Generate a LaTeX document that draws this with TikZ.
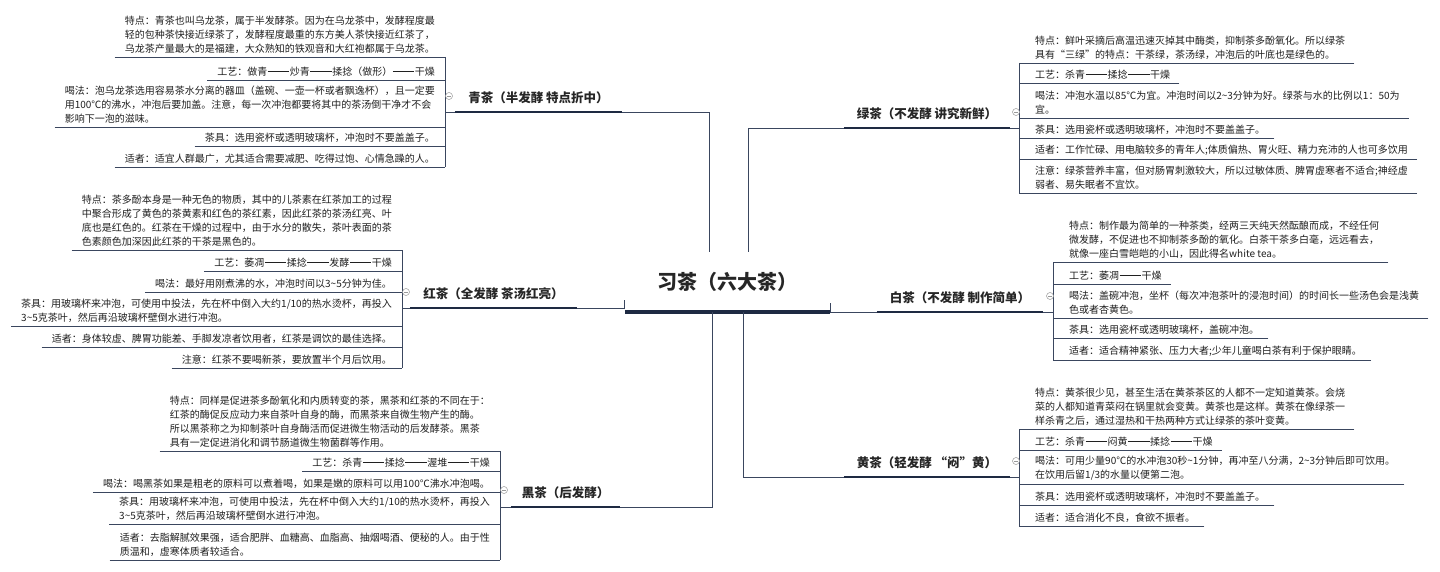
\documentclass[tikz,border=0pt]{standalone}
\usepackage{fontspec}
\setmainfont{Noto Sans CJK SC}
\usepackage{tikz}
\definecolor{linecol}{RGB}{58, 70, 94}
\definecolor{barcol}{RGB}{30, 42, 66}
\definecolor{textcol}{RGB}{32, 32, 32}
\newcommand{\tld}{\textasciitilde}
\newcommand{\dd}{\hspace{0.05em}\rule[0.34em]{2.15em}{0.06em}\hspace{0.05em}} % ——

\begin{document}
\begin{tikzpicture}[x=1pt, y=-1pt,
    item/.style={font=\fontsize{10}{14}\selectfont, text=textcol, align=left,
                 inner xsep=10pt, inner ysep=3.5pt}, % tópicos
    itemL/.style={item, anchor=south east},          % lado esquerdo
    itemR/.style={item, anchor=south west, inner xsep=9pt}, % lado direito
    branch/.style={font=\fontsize{12.5}{15}\selectfont\bfseries, text=black!85,
                   anchor=south, inner xsep=0pt, inner ysep=8.5pt},
    thin/.style={draw=linecol, line width=0.9pt},
    bar/.style={draw=barcol, line width=2.8pt},
    fold/.style={circle, draw=gray!80, line width=0.5pt, fill=white,
                 minimum size=7pt, inner sep=0pt,
                 path picture={\draw[gray!80, line width=0.5pt]
                   ([xshift=-2pt]path picture bounding box.center) --
                   ([xshift=2pt]path picture bounding box.center);}}]
\useasboundingbox (0,0) rectangle (1440,572);
\fill[white] (0,0) rectangle (1440,572);

% centro
\node[font=\fontsize{20}{24}\selectfont\bfseries, text=black!85, anchor=south,
      minimum width=205pt, minimum height=60pt, inner sep=0pt] (xc) at (727.5,312) {习茶（六大茶）};
\draw[barcol, line width=3.6pt] (xc.south west) -- (xc.south east);

% ramos
\node[branch, minimum width=167pt] (qing)  at (538.5,112) {青茶（半发酵 特点折中）};
\node[branch, minimum width=167pt] (hong)  at (493.5,308) {红茶（全发酵 茶汤红亮）};
\node[branch, minimum width=109pt] (hei)   at (565.5,507) {黑茶（后发酵）};
\node[branch, minimum width=166pt] (lv)    at (927,128)   {绿茶（不发酵 讲究新鲜）};
\node[branch, minimum width=166pt] (bai)   at (960,312)   {白茶（不发酵 制作简单）};
\node[branch, minimum width=166pt] (huang) at (927,477)   {黄茶（轻发酵 “闷”黄）};
\foreach \b in {qing,hong,hei,lv,bai,huang}
  \draw[bar] (\b.south west) -- (\b.south east);

\draw[thin] ([xshift=85pt]xc.north west) |- (qing.south east);
\draw[thin] ([xshift=124pt]xc.north west) |- (lv.south west);
\draw[thin] ([yshift=12pt]xc.south west) |- (hong.south east);
\draw[thin] ([yshift=9pt]xc.south east) |- (bai.south west);
\draw[thin] ([xshift=88pt]xc.south west) |- (hei.south east);
\draw[thin] ([xshift=119pt]xc.south west) |- (huang.south west);

% 青茶
\node[itemL] (qing1) at (445,57) {特点：青茶也叫乌龙茶，属于半发酵茶。因为在乌龙茶中，发酵程度最\\轻的包种茶快接近绿茶了，发酵程度最重的东方美人茶快接近红茶了，\\乌龙茶产量最大的是福建，大众熟知的铁观音和大红袍都属于乌龙茶。};
\node[itemL] (qing2) at (445,80) {工艺：做青\dd 炒青\dd 揉捻（做形）\dd 干燥};
\node[itemL] (qing3) at (445,127) {喝法：泡乌龙茶选用容易茶水分离的器皿（盖碗、一壶一杯或者飘逸杯），且一定要\\用100℃的沸水，冲泡后要加盖。注意，每一次冲泡都要将其中的茶汤倒干净才不会\\影响下一泡的滋味。};
\node[itemL] (qing4) at (445,146) {茶具：选用瓷杯或透明玻璃杯，冲泡时不要盖盖子。};
\node[itemL] (qing5) at (445,167) {适者：适宜人群最广，尤其适合需要减肥、吃得过饱、心情急躁的人。};
\foreach \n in {qing1,qing2,qing3,qing4,qing5}
  \draw[thin] (\n.south west) -- (\n.south east);
\draw[thin] (qing1.south east) -- (qing5.south east);
\draw[thin] (qing.south west) -- (qing.south west -| qing1.south east);
\node[fold] (qingf) at (449,96) {};

% 红茶
\node[itemL] (hong1) at (402,250) {特点：茶多酚本身是一种无色的物质，其中的儿茶素在红茶加工的过程\\中聚合形成了黄色的茶黄素和红色的茶红素，因此红茶的茶汤红亮、叶\\底也是红色的。红茶在干燥的过程中，由于水分的散失，茶叶表面的茶\\色素颜色加深因此红茶的干茶是黑色的。};
\node[itemL] (hong2) at (402,271) {工艺：萎凋\dd 揉捻\dd 发酵\dd 干燥};
\node[itemL] (hong3) at (402,292) {喝法：最好用刚煮沸的水，冲泡时间以3\tld5分钟为佳。};
\node[itemL] (hong4) at (402,326) {茶具：用玻璃杯来冲泡，可使用中投法，先在杯中倒入大约1/10的热水烫杯，再投入\\3\tld5克茶叶，然后再沿玻璃杯壁倒水进行冲泡。};
\node[itemL] (hong5) at (402,347) {适者：身体较虚、脾胃功能差、手脚发凉者饮用者，红茶是调饮的最佳选择。};
\node[itemL] (hong6) at (402,368) {注意：红茶不要喝新茶，要放置半个月后饮用。};
\foreach \n in {hong1,hong2,hong3,hong4,hong5,hong6}
  \draw[thin] (\n.south west) -- (\n.south east);
\draw[thin] (hong1.south east) -- (hong6.south east);
\draw[thin] (hong.south west) -- (hong.south west -| hong1.south east);
\node[fold] (hongf) at (406,292) {};

% 黑茶
\node[itemL] (hei1) at (500,451) {特点：同样是促进茶多酚氧化和内质转变的茶，黑茶和红茶的不同在于：\\红茶的酶促反应动力来自茶叶自身的酶，而黑茶来自微生物产生的酶。\\所以黑茶称之为抑制茶叶自身酶活而促进微生物活动的后发酵茶。黑茶\\具有一定促进消化和调节肠道微生物菌群等作用。};
\node[itemL] (hei2) at (500,471) {工艺：杀青\dd 揉捻\dd 渥堆\dd 干燥};
\node[itemL] (hei3) at (500,492) {喝法：喝黑茶如果是粗老的原料可以煮着喝，如果是嫩的原料可以用100℃沸水冲泡喝。};
\node[itemL] (hei4) at (500,524) {茶具：用玻璃杯来冲泡，可使用中投法，先在杯中倒入大约1/10的热水烫杯，再投入\\3\tld5克茶叶，然后再沿玻璃杯壁倒水进行冲泡。};
\node[itemL] (hei5) at (500,560) {适者：去脂解腻效果强，适合肥胖、血糖高、血脂高、抽烟喝酒、便秘的人。由于性\\质温和，虚寒体质者较适合。};
\foreach \n in {hei1,hei2,hei3,hei4,hei5}
  \draw[thin] (\n.south west) -- (\n.south east);
\draw[thin] (hei1.south east) -- (hei5.south east);
\draw[thin] (hei.south west) -- (hei.south west -| hei1.south east);
\node[fold] (heif) at (504,490) {};

% 绿茶
\coordinate (lvbus) at (1019,128);
\node[itemR] (lv1) at (1026,63) {特点：鲜叶采摘后高温迅速灭掉其中酶类，抑制茶多酚氧化。所以绿茶\\具有“三绿”的特点：干茶绿，茶汤绿，冲泡后的叶底也是绿色的。};
\node[itemR] (lv2) at (1026,83) {工艺：杀青\dd 揉捻\dd 干燥};
\node[itemR] (lv3) at (1026,118) {喝法：冲泡水温以85℃为宜。冲泡时间以2\tld3分钟为好。绿茶与水的比例以1：50为\\宜。};
\node[itemR] (lv4) at (1026,138) {茶具：选用瓷杯或透明玻璃杯，冲泡时不要盖盖子。};
\node[itemR] (lv5) at (1026,159) {适者：工作忙碌、用电脑较多的青年人;体质偏热、胃火旺、精力充沛的人也可多饮用};
\node[itemR] (lv6) at (1026,193) {注意：绿茶营养丰富，但对肠胃刺激较大，所以过敏体质、脾胃虚寒者不适合;神经虚\\弱者、易失眠者不宜饮。};
\foreach \n in {lv1,lv2,lv3,lv4,lv5,lv6}
  \draw[thin] (\n.south east) -- (\n.south west -| lvbus);
\draw[thin] (lv1.south west -| lvbus) -- (lv6.south west -| lvbus);
\draw[thin] (lv.south east) -- (lvbus);
\node[fold] (lvf) at (1016,112) {};

% 白茶
\coordinate (baibus) at (1053,312);
\node[itemR] (bai1) at (1060,262) {特点：制作最为简单的一种茶类，经两三天纯天然酝酿而成，不经任何\\微发酵，不促进也不抑制茶多酚的氧化。白茶干茶多白毫，远远看去，\\就像一座白雪皑皑的小山，因此得名white tea。};
\node[itemR] (bai2) at (1060,284) {工艺：萎凋\dd 干燥};
\node[itemR] (bai3) at (1060,318) {喝法：盖碗冲泡，坐杯（每次冲泡茶叶的浸泡时间）的时间长一些汤色会是浅黄\\色或者杏黄色。};
\node[itemR] (bai4) at (1060,338) {茶具：选用瓷杯或透明玻璃杯，盖碗冲泡。};
\node[itemR] (bai5) at (1060,360) {适者：适合精神紧张、压力大者;少年儿童喝白茶有利于保护眼睛。};
\foreach \n in {bai1,bai2,bai3,bai4,bai5}
  \draw[thin] (\n.south east) -- (\n.south west -| baibus);
\draw[thin] (bai1.south west -| baibus) -- (bai5.south west -| baibus);
\draw[thin] (bai.south east) -- (baibus);
\node[fold] (baif) at (1050,296) {};

% 黄茶
\coordinate (huangbus) at (1019,477);
\node[itemR] (huang1) at (1026,429) {特点：黄茶很少见，甚至生活在黄茶茶区的人都不一定知道黄茶。会烧\\菜的人都知道青菜闷在锅里就会变黄。黄茶也是这样。黄茶在像绿茶一\\样杀青之后，通过湿热和干热两种方式让绿茶的茶叶变黄。};
\node[itemR] (huang2) at (1026,450) {工艺：杀青\dd 闷黄\dd 揉捻\dd 干燥};
\node[itemR] (huang3) at (1026,484) {喝法：可用少量90℃的水冲泡30秒\tld1分钟，再冲至八分满，2\tld3分钟后即可饮用。\\在饮用后留1/3的水量以便第二泡。};
\node[itemR] (huang4) at (1026,505) {茶具：选用瓷杯或透明玻璃杯，冲泡时不要盖盖子。};
\node[itemR] (huang5) at (1026,526) {适者：适合消化不良，食欲不振者。};
\foreach \n in {huang1,huang2,huang3,huang4,huang5}
  \draw[thin] (\n.south east) -- (\n.south west -| huangbus);
\draw[thin] (huang1.south west -| huangbus) -- (huang5.south west -| huangbus);
\draw[thin] (huang.south east) -- (huangbus);
\node[fold] (huangf) at (1016,461) {};
\end{tikzpicture}
\end{document}
